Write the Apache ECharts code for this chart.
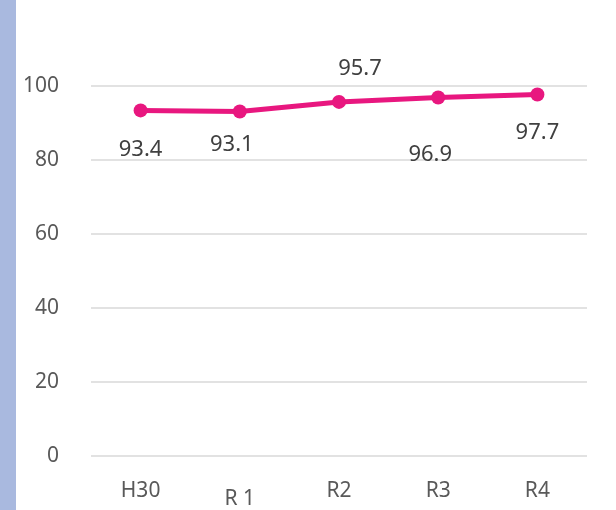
<!DOCTYPE html>
<html>
<head>
<meta charset="utf-8">
<script src="https://cdn.jsdelivr.net/npm/echarts@6/dist/echarts.min.js"></script>
<style>
  html, body { margin: 0; padding: 0; background: #fff; }
  #side { position: absolute; left: 0; top: 0; width: 16px; height: 510px; background: #a9b9df; }
  #chart { position: absolute; left: 0; top: 0; width: 616px; height: 510px; }
</style>
</head>
<body>
<div id="side"></div>
<div id="chart"></div>
<script>
// データ
const categories = ['H30', 'R 1', 'R2', 'R3', 'R4'];
const values = [93.4, 93.1, 95.7, 96.9, 97.7];
const yTicks = [0, 20, 40, 60, 80, 100];

// ラベルの位置ずらし（点からの相対）
const labelShift = [[0, 39], [-8, 33], [21, -33], [-8, 57], [0, 38]];

const myChart = echarts.init(document.getElementById('chart'));

const seriesData = values.map((v, i) => ({
    value: v,
    label: { offset: labelShift[i] }
}));

const option = {
    animation: false,
    grid: { left: 91, right: 29, top: 86, bottom: 53 },
    xAxis: {
        type: 'category',
        data: categories.map(c => c === 'R 1'
            ? { value: c, textStyle: { padding: [8, 0, 0, 0] } }
            : c),
        axisLine: { show: false },
        axisTick: { show: false },
        axisLabel: {
            color: '#595959',
            fontSize: 21,
            fontFamily: 'Noto Sans',
            margin: 25
        }
    },
    yAxis: {
        type: 'value',
        min: yTicks[0],
        max: yTicks[yTicks.length - 1],
        interval: 20,
        axisLine: { show: false },
        axisTick: { show: false },
        splitLine: { lineStyle: { color: '#d9d9d9', width: 1.5 } },
        axisLabel: {
            color: '#595959',
            fontSize: 21,
            fontFamily: 'Noto Sans',
            margin: 32
        }
    },
    series: [{
        type: 'line',
        data: seriesData,
        symbol: 'circle',
        symbolSize: 14,
        lineStyle: { color: '#e8177f', width: 5 },
        itemStyle: { color: '#e8177f' },
        label: {
            show: true,
            position: 'inside',
            align: 'center',
            verticalAlign: 'middle',
            color: '#404040',
            fontSize: 22,
            fontFamily: 'Noto Sans'
        }
    }]
};

myChart.setOption(option, true);
</script>
</body>
</html>
